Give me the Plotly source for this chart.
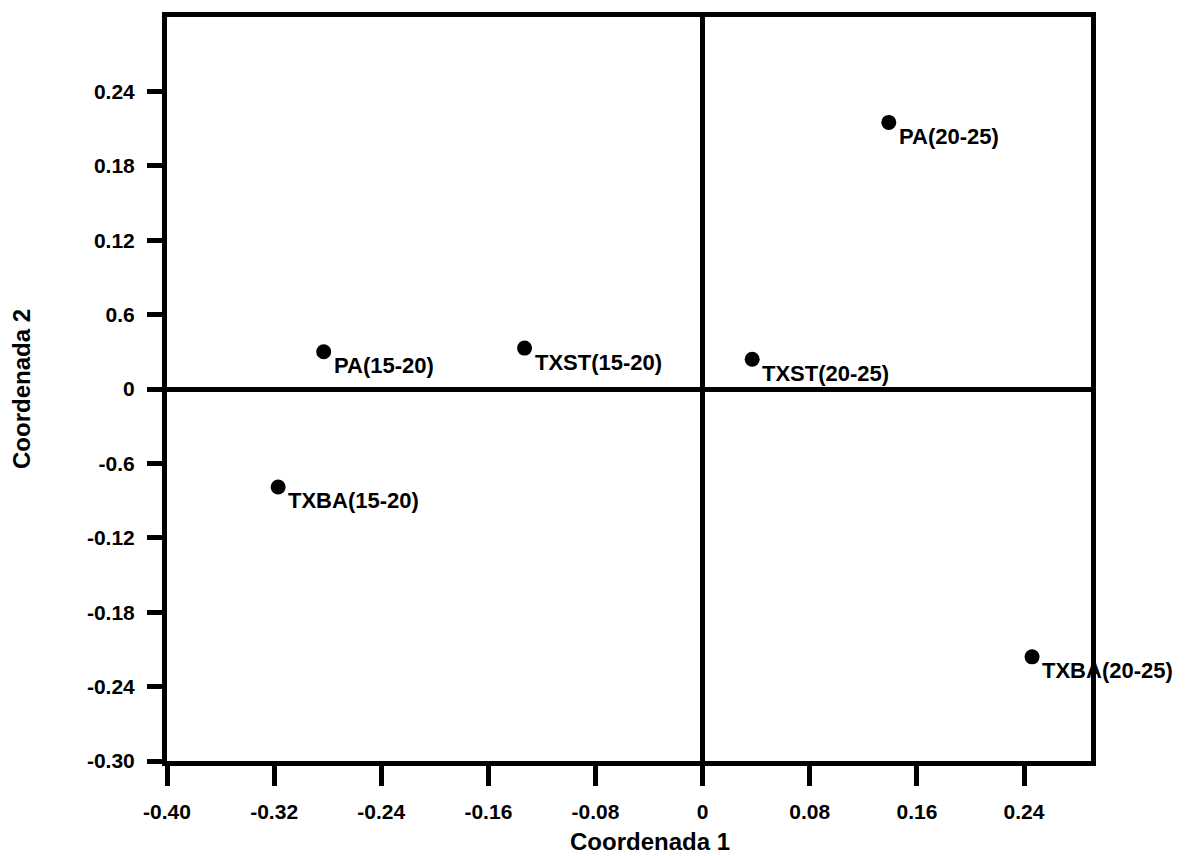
import plotly.graph_objects as go

# Principal coordinates of each group
labels = ["PA(15-20)", "TXST(15-20)", "TXBA(15-20)", "PA(20-25)", "TXST(20-25)", "TXBA(20-25)"]
coord1 = [-0.283, -0.133, -0.317, 0.139, 0.037, 0.246]
coord2 = [0.030, 0.033, -0.079, 0.215, 0.024, -0.216]

# Axis ticks (labels kept as printed)
x_tickvals = [-0.40, -0.32, -0.24, -0.16, -0.08, 0, 0.08, 0.16, 0.24]
x_ticktext = ["-0.40", "-0.32", "-0.24", "-0.16", "-0.08", "0", "0.08", "0.16", "0.24"]
y_tickvals = [-0.30, -0.24, -0.18, -0.12, -0.06, 0, 0.06, 0.12, 0.18, 0.24]
y_ticktext = ["-0.30", "-0.24", "-0.18", "-0.12", "-0.6", "0", "0.6", "0.12", "0.18", "0.24"]

FONT = "Arial, Liberation Sans, sans-serif"

fig = go.Figure()
fig.add_trace(go.Scatter(
    x=coord1, y=coord2, mode="markers",
    marker=dict(size=15, color="black"),
    hoverinfo="text", text=labels, showlegend=False,
))

for name, x, y in zip(labels, coord1, coord2):
    fig.add_annotation(
        x=x, y=y, text=f"<b>{name}</b>", showarrow=False,
        xanchor="left", yanchor="middle", xshift=8, yshift=-14,
        font=dict(family=FONT, size=22, color="black"),
    )

axis_common = dict(
    showgrid=False, showline=True, linewidth=5, linecolor="black", mirror=True,
    ticks="outside", tickwidth=5, tickcolor="black",
    zeroline=True, zerolinewidth=5, zerolinecolor="black",
    tickfont=dict(family=FONT, size=21, color="black", weight="bold"),
)

fig.update_xaxes(range=[-0.40, 0.29], tickvals=x_tickvals, ticktext=x_ticktext,
                 ticklen=20, ticklabelstandoff=8, **axis_common)
fig.update_yaxes(range=[-0.30, 0.30], tickvals=y_tickvals, ticktext=y_ticktext,
                 ticklen=15, ticklabelstandoff=8, **axis_common)

fig.add_annotation(xref="paper", yref="paper", x=(650 - 167) / 924, y=-(842 - 761) / 748,
                   text="<b>Coordenada 1</b>", showarrow=False,
                   xanchor="center", yanchor="middle",
                   font=dict(family=FONT, size=24, color="black"))
fig.add_annotation(xref="paper", yref="paper", x=-(167 - 21) / 924, y=0.5,
                   text="<b>Coordenada 2</b>", showarrow=False, textangle=-90,
                   xanchor="center", yanchor="middle",
                   font=dict(family=FONT, size=24, color="black"))

fig.update_layout(
    width=1189, height=856,
    margin=dict(l=167, r=98, t=13, b=95),
    plot_bgcolor="white", paper_bgcolor="white",
)

fig.write_html("out.html")
